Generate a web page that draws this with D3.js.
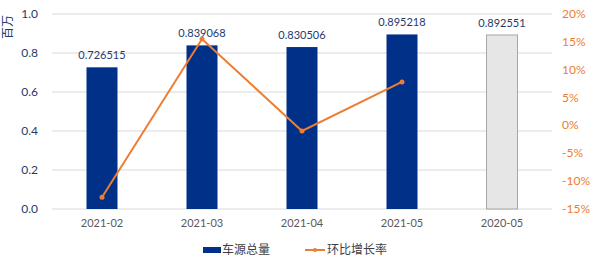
<!DOCTYPE html>
<html>
<head>
<meta charset="utf-8">
<script src="https://cdn.jsdelivr.net/npm/d3@7.9.0/dist/d3.min.js"></script>
<style>
  body { margin: 0; background: #fff; }
  svg { font-family: Lato, "Noto Sans CJK SC", sans-serif; }
</style>
</head>
<body>
<svg id="chart" width="592" height="262"></svg>
<script>
// chart data
const months = ['2021-02', '2021-03', '2021-04', '2021-05', '2020-05'];
const totals = [0.726515, 0.839068, 0.830506, 0.895218, 0.892551];
const growth = [-12.9, 15.5, -1.0, 7.8]; // 环比增长率 (%), first four months
const leftTicks = [0, 0.2, 0.4, 0.6, 0.8, 1.0];
const rightTicks = [-15, -10, -5, 0, 5, 10, 15, 20];

const svg = d3.select('#chart');
const navy = '#003087';
const orange = '#ED7D31';

// scales
const x = d3.scaleBand().domain(months).range([52, 552]);
const yL = d3.scaleLinear().domain([0, 1]).range([209, 14]);
const yR = d3.scaleLinear().domain([-15, 20]).range([209, 14]);
const barW = 31;

// gridlines
svg.append('g')
  .selectAll('line')
  .data(leftTicks)
  .join('line')
  .attr('x1', 52).attr('x2', 552)
  .attr('y1', d => yL(d)).attr('y2', d => yL(d))
  .attr('stroke', '#d9d9d9').attr('stroke-width', 1);

// left axis labels
svg.append('g')
  .selectAll('text')
  .data(leftTicks)
  .join('text')
  .attr('x', 38).attr('y', d => yL(d) + 4)
  .attr('text-anchor', 'end')
  .attr('font-size', 12)
  .attr('fill', '#1f3a6e')
  .text(d => d3.format('.1f')(d));

// right axis labels
svg.append('g')
  .selectAll('text')
  .data(rightTicks)
  .join('text')
  .attr('x', 562).attr('y', d => yR(d) + 4)
  .attr('text-anchor', 'start')
  .attr('font-size', 12)
  .attr('fill', orange)
  .text(d => d + '%');

// unit label
svg.append('text')
  .attr('transform', 'translate(12,27) rotate(-90)')
  .attr('text-anchor', 'middle')
  .attr('font-size', 12)
  .attr('fill', '#1f3a6e')
  .text('百万');

// bars
svg.append('g')
  .selectAll('rect')
  .data(totals)
  .join('rect')
  .attr('x', (d, i) => x(months[i]) + x.bandwidth() / 2 - barW / 2)
  .attr('y', d => yL(d))
  .attr('width', barW)
  .attr('height', d => yL(0) - yL(d))
  .attr('fill', (d, i) => i === 4 ? '#e6e6e6' : navy)
  .attr('stroke', (d, i) => i === 4 ? '#a6a6a6' : 'none')
  .attr('stroke-width', 1);

// value labels
svg.append('g')
  .selectAll('text')
  .data(totals)
  .join('text')
  .attr('x', (d, i) => x(months[i]) + x.bandwidth() / 2)
  .attr('y', d => yL(d) - 8)
  .attr('text-anchor', 'middle')
  .attr('font-size', 11)
  .attr('fill', '#1f3a6e')
  .text(d => d);

// x labels
svg.append('g')
  .selectAll('text')
  .data(months)
  .join('text')
  .attr('x', d => x(d) + x.bandwidth() / 2)
  .attr('y', 227)
  .attr('text-anchor', 'middle')
  .attr('font-size', 11)
  .attr('fill', '#595959')
  .text(d => d);

// growth line
const line = d3.line()
  .x((d, i) => x(months[i]) + x.bandwidth() / 2)
  .y(d => yR(d));

svg.append('path')
  .datum(growth)
  .attr('d', line)
  .attr('fill', 'none')
  .attr('stroke', orange)
  .attr('stroke-width', 2);

svg.append('g')
  .selectAll('circle')
  .data(growth)
  .join('circle')
  .attr('cx', (d, i) => x(months[i]) + x.bandwidth() / 2)
  .attr('cy', d => yR(d))
  .attr('r', 2.5)
  .attr('fill', orange);

// legend
const legend = svg.append('g').attr('transform', 'translate(0,250)');
legend.append('rect')
  .attr('x', 203).attr('y', -3).attr('width', 18).attr('height', 6)
  .attr('fill', navy);
legend.append('text')
  .attr('x', 222).attr('y', 4)
  .attr('font-size', 12).attr('fill', '#404040')
  .text('车源总量');
legend.append('line')
  .attr('x1', 305).attr('x2', 325).attr('y1', 0).attr('y2', 0)
  .attr('stroke', orange).attr('stroke-width', 2);
legend.append('circle')
  .attr('cx', 315).attr('cy', 0).attr('r', 2)
  .attr('fill', orange);
legend.append('text')
  .attr('x', 327).attr('y', 4)
  .attr('font-size', 12).attr('fill', '#404040')
  .text('环比增长率');
</script>
</body>
</html>
